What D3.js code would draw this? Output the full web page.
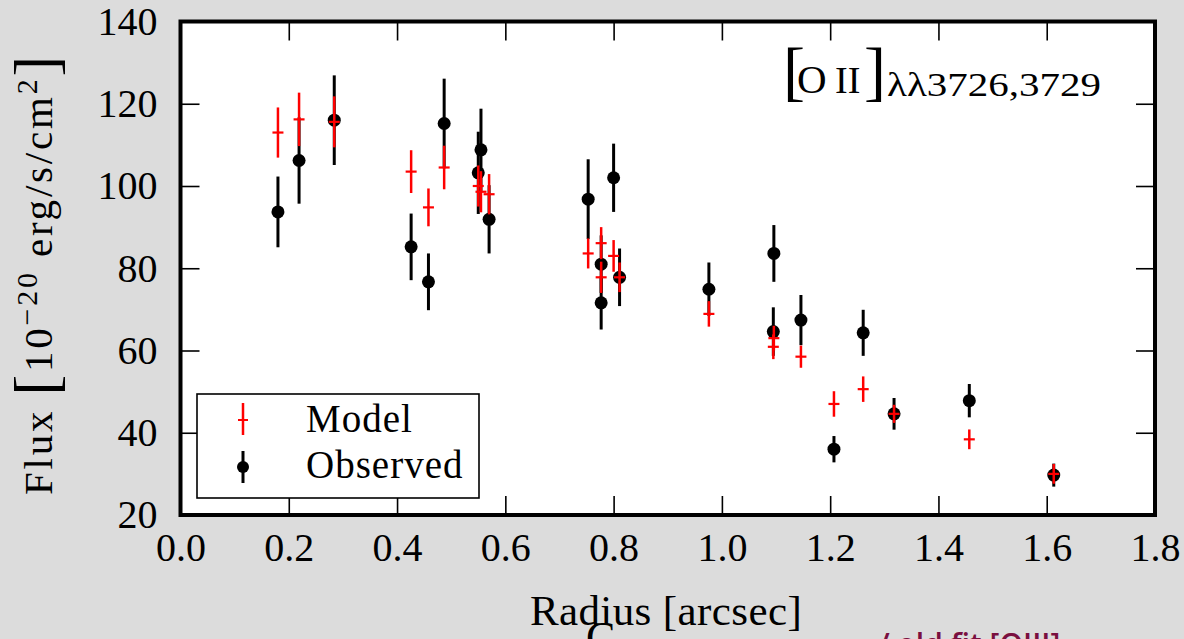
<!DOCTYPE html>
<html>
<head>
<meta charset="utf-8">
<script src="https://cdn.jsdelivr.net/npm/d3@7"></script>
<style>
  html, body { margin: 0; padding: 0; background: #dcdcdc; }
  svg { display: block; }
</style>
</head>
<body>
<svg id="chart" width="1184" height="639"></svg>
<script>
// ---- data ----
const radius = [0.180, 0.219, 0.284, 0.426, 0.458, 0.487, 0.550, 0.555, 0.570, 0.753, 0.777, 0.777,
                0.800, 0.811, 0.976, 1.096, 1.095, 1.146, 1.207, 1.261, 1.318, 1.457, 1.613];
const observedFlux = [93.7, 106.2, 116.0, 85.2, 76.7, 115.2, 103.2, 108.8, 91.9, 96.8, 81.0, 71.6,
                      102.0, 77.8, 74.9, 83.6, 64.6, 67.4, 36.0, 64.3, 44.6, 47.8, 29.7];
const observedErr = [8.6, 10.5, 10.9, 8.1, 6.9, 10.9, 10.0, 10.0, 8.3, 9.7, 7.0, 6.5,
                     8.3, 7.0, 6.5, 6.9, 5.9, 6.1, 3.2, 5.6, 3.85, 4.05, 2.8];
const modelFlux = [113.0, 116.2, 115.6, 103.5, 94.8, 104.5, 100.0, 98.6, 98.0, 83.6, 86.1, 77.8,
                   83.0, 77.8, 68.9, 63.0, 60.9, 58.5, 47.0, 50.6, 44.6, 38.4, 30.0];
const modelErr = [6.1, 6.5, 6.2, 5.2, 4.6, 5.3, 5.0, 5.0, 4.9, 3.65, 3.9, 3.8,
                  3.85, 3.6, 3.1, 3.0, 3.0, 2.7, 3.1, 3.1, 2.2, 2.4, 2.4];
const xTicks = [0.0, 0.2, 0.4, 0.6, 0.8, 1.0, 1.2, 1.4, 1.6, 1.8];
const yTicks = [20, 40, 60, 80, 100, 120, 140];
const legendLabels = ["Model", "Observed"];

// ---- layout ----
const SERIF = "Liberation Serif, DejaVu Serif, serif";
const svg = d3.select("#chart").style("font-family", SERIF);
const L = 180.5, R = 1155, T = 21.5, B = 515;
const x = d3.scaleLinear().domain([0, 1.8]).range([L, R]);
const y = d3.scaleLinear().domain([20, 140]).range([B, T]);

svg.append("rect").attr("x", L).attr("y", T).attr("width", R - L).attr("height", B - T)
  .attr("fill", "#fff");

// axes (ticks inside on all four sides)
const tl = 19;
function styleAxis(g) {
  g.select(".domain").remove();
  g.selectAll(".tick line").attr("stroke", "#000").attr("stroke-width", 1.6);
  g.selectAll(".tick text").attr("fill", "#000")
    .style("font-size", "40px").style("font-family", SERIF);
}
svg.append("g").attr("transform", `translate(0,${B})`)
  .call(d3.axisBottom(x).tickValues(xTicks).tickSize(-tl).tickPadding(18).tickFormat(d3.format(".1f")))
  .call(styleAxis);
svg.append("g").attr("transform", `translate(0,${T})`)
  .call(d3.axisTop(x).tickValues(xTicks).tickSize(-tl).tickFormat(""))
  .call(styleAxis);
svg.append("g").attr("transform", `translate(${L},0)`)
  .call(d3.axisLeft(y).tickValues(yTicks).tickSize(-tl).tickPadding(23).tickFormat(d3.format("d")))
  .call(styleAxis);
svg.append("g").attr("transform", `translate(${R},0)`)
  .call(d3.axisRight(y).tickValues(yTicks).tickSize(-tl).tickFormat(""))
  .call(styleAxis);

// ---- observed (black) ----
const obs = radius.map((r, i) => ({ r, f: observedFlux[i], e: observedErr[i] }));
const mod = radius.map((r, i) => ({ r, f: modelFlux[i], e: modelErr[i] }));

const gObs = svg.append("g");
gObs.selectAll("line").data(obs).join("line")
  .attr("x1", d => x(d.r)).attr("x2", d => x(d.r))
  .attr("y1", d => y(d.f - d.e)).attr("y2", d => y(d.f + d.e))
  .attr("stroke", "#000").attr("stroke-width", 3);
gObs.selectAll("circle").data(obs).join("circle")
  .attr("cx", d => x(d.r)).attr("cy", d => y(d.f)).attr("r", 6.5).attr("fill", "#000");

// ---- model (red) ----
const gMod = svg.append("g");
gMod.selectAll("line.eb").data(mod).join("line").attr("class", "eb")
  .attr("x1", d => x(d.r)).attr("x2", d => x(d.r))
  .attr("y1", d => y(d.f - d.e)).attr("y2", d => y(d.f + d.e))
  .attr("stroke", "#ff0000").attr("stroke-width", 2.5);
gMod.selectAll("line.h").data(mod).join("line").attr("class", "h")
  .attr("x1", d => x(d.r) - 5.5).attr("x2", d => x(d.r) + 5.5)
  .attr("y1", d => y(d.f)).attr("y2", d => y(d.f))
  .attr("stroke", "#ff0000").attr("stroke-width", 2.2);

// frame
svg.append("rect").attr("x", L).attr("y", T).attr("width", R - L).attr("height", B - T)
  .attr("fill", "none").attr("stroke", "#000").attr("stroke-width", 4);

// ---- legend ----
const lg = svg.append("g");
lg.append("rect").attr("x", 197).attr("y", 394).attr("width", 282).attr("height", 104)
  .attr("fill", "#fff").attr("stroke", "#000").attr("stroke-width", 1.6);
lg.append("line").attr("x1", 243).attr("x2", 243).attr("y1", 403).attr("y2", 435)
  .attr("stroke", "#ff0000").attr("stroke-width", 2.5);
lg.append("line").attr("x1", 238).attr("x2", 248).attr("y1", 420).attr("y2", 420)
  .attr("stroke", "#ff0000").attr("stroke-width", 2);
lg.append("line").attr("x1", 243).attr("x2", 243).attr("y1", 451).attr("y2", 483)
  .attr("stroke", "#000").attr("stroke-width", 3);
lg.append("circle").attr("cx", 243).attr("cy", 467).attr("r", 6).attr("fill", "#000");
lg.append("text").attr("x", 306).attr("y", 432).style("font-size", "39px")
  .style("letter-spacing", "1px").text(legendLabels[0]);
lg.append("text").attr("x", 306).attr("y", 478).style("font-size", "39px")
  .style("letter-spacing", "1px").text(legendLabels[1]);

// ---- title [O II] λλ3726,3729 ----
const tg = svg.append("g");
tg.append("text").attr("x", 783).attr("y", 92.5).style("font-size", "66px").text("[");
tg.append("text").attr("x", 797).attr("y", 93).style("font-size", "41px").text("O");
tg.append("text").attr("x", 835).attr("y", 93).style("font-size", "38px").text("II");
tg.append("text").attr("x", 864).attr("y", 92.5).style("font-size", "66px").text("]");
tg.append("text").attr("x", 887).attr("y", 96).style("font-size", "33px")
  .attr("textLength", 214).attr("lengthAdjust", "spacingAndGlyphs").text("λλ3726,3729");

// ---- axis labels ----
svg.append("text").attr("x", 666).attr("y", 625).attr("text-anchor", "middle")
  .style("font-size", "43px").style("letter-spacing", "0.4px").text("Radius [arcsec]");

const yl = svg.append("text").attr("transform", "translate(52,274) rotate(-90)")
  .attr("text-anchor", "middle").style("font-size", "41px").style("letter-spacing", "2.8px");
yl.append("tspan").text("Flux  ");
yl.append("tspan").style("font-size", "62px").attr("dy", 5).text("[");
yl.append("tspan").style("font-size", "41px").attr("dy", -5).text("10");
yl.append("tspan").style("font-size", "30px").attr("dy", -15).text("−20");
yl.append("tspan").style("font-size", "41px").attr("dy", 15).text(" erg/s/cm");
yl.append("tspan").style("font-size", "30px").attr("dy", -15).text("2");
yl.append("tspan").style("font-size", "62px").attr("dy", 20).text("]");

// ---- cut-off text peeking at the bottom edge ----
svg.append("text").attr("x", 586).attr("y", 652).style("font-size", "44px").text("C");
svg.append("text").attr("x", 878).attr("y", 655)
  .style("font-family", "Open Sans, sans-serif").style("font-weight", 600)
  .style("font-size", "30px").style("fill", "#7a0f40").text("/ old fit [OIII]");
</script>
</body>
</html>
